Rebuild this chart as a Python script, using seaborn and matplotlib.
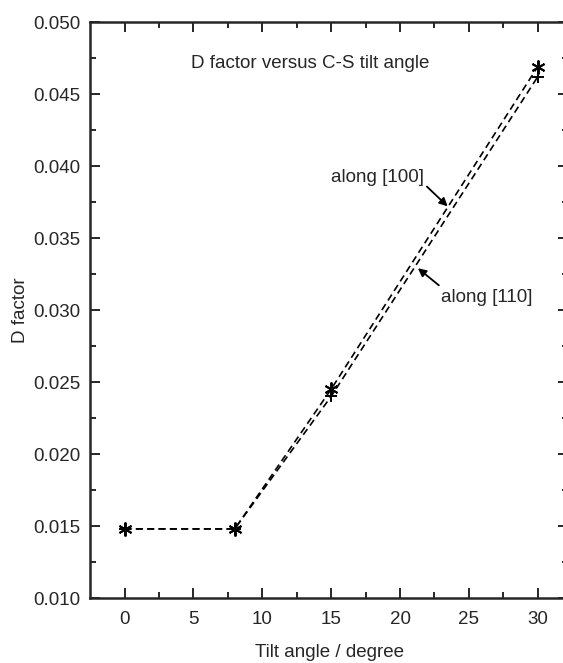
import seaborn as sns
import matplotlib.pyplot as plt
import pandas as pd

# data
tilt = [0, 8, 15, 30]
d_100 = [0.0148, 0.0148, 0.0245, 0.0469]
d_110 = [0.0148, 0.0148, 0.0240, 0.0462]

df = pd.DataFrame({'tilt': tilt, 'd100': d_100, 'd110': d_110})

sns.set_style('ticks')
plt.rcParams['font.family'] = ['Liberation Sans', 'DejaVu Sans']

fig = plt.figure(figsize=(5.63, 6.63), dpi=100)
ax = fig.add_axes([0.160, 0.098, 0.849, 0.8688])

dash = (0, (4.2, 2.6))
sns.lineplot(data=df, x='tilt', y='d100', ax=ax, color='black', linestyle=dash,
             linewidth=1.2, marker=(6, 2, 0), markersize=10, markeredgewidth=1.4,
             markeredgecolor='black')
sns.lineplot(data=df, x='tilt', y='d110', ax=ax, color='black', linestyle=dash,
             linewidth=1.2, marker='+', markersize=9, markeredgewidth=1.4,
             markeredgecolor='black')

ax.set_xlim(-2.5, 32.2)
ax.set_ylim(0.010, 0.050)
ax.set_xticks([0, 5, 10, 15, 20, 25, 30])
ax.set_yticks([0.010, 0.015, 0.020, 0.025, 0.030, 0.035, 0.040, 0.045, 0.050])
ax.set_yticklabels([f'{v:.3f}' for v in ax.get_yticks()])
ax.set_xticks([2.5, 7.5, 12.5, 17.5, 22.5, 27.5], minor=True)
ax.set_yticks([0.0125, 0.0175, 0.0225, 0.0275, 0.0325, 0.0375, 0.0425, 0.0475], minor=True)
ax.tick_params(which='both', direction='in', top=True, right=True, labelsize=13.5, width=1.4)
ax.tick_params(which='major', length=7)
ax.tick_params(which='minor', length=4.3)
ax.tick_params(axis='x', pad=9)
ax.tick_params(axis='y', pad=7)
for s in ax.spines.values():
    s.set_linewidth(1.8)

ax.set_xlabel('Tilt angle / degree', fontsize=13.5, labelpad=12)
ax.set_ylabel('D factor', fontsize=13.5, labelpad=3)

ax.text(13.5, 0.0471, 'D factor versus C-S tilt angle', fontsize=13.5, ha='center', va='center')
ax.annotate('along [100]', xy=(23.46, 0.0372), xytext=(18.34, 0.0392),
            fontsize=13.5, ha='center', va='center',
            arrowprops=dict(arrowstyle='-|>', color='black', lw=1.3, shrinkA=0, shrinkB=0,
                            relpos=(1.0, 0.15), mutation_scale=12))
ax.annotate('along [110]', xy=(21.3, 0.0329), xytext=(26.3, 0.0309),
            fontsize=13.5, ha='center', va='center',
            arrowprops=dict(arrowstyle='-|>', color='black', lw=1.3, shrinkA=0, shrinkB=0,
                            relpos=(0.02, 1.0), mutation_scale=12))

fig.savefig('out.png', dpi=100)
